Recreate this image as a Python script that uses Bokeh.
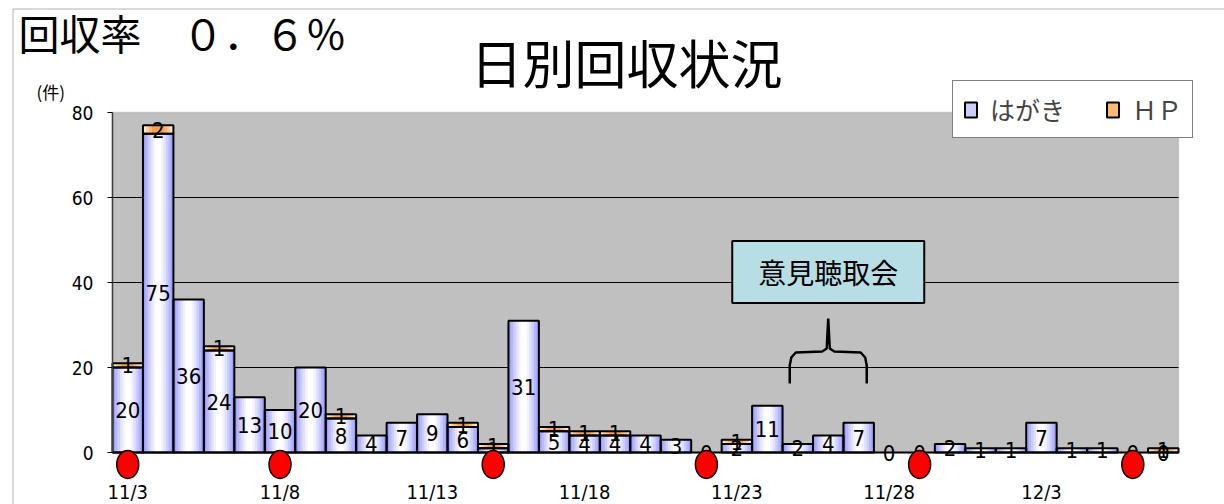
from bokeh.plotting import figure
from bokeh.models import (ColumnDataSource, Range1d, FixedTicker, Label, BoxAnnotation,
                          Legend, LegendItem, CDSView, BooleanFilter)
from bokeh.core.properties import value
from bokeh.embed import file_html
from bokeh.resources import INLINE

# ---------------- data ----------------
dates = ["11/3", "11/4", "11/5", "11/6", "11/7", "11/8", "11/9", "11/10", "11/11", "11/12",
         "11/13", "11/14", "11/15", "11/16", "11/17", "11/18", "11/19", "11/20", "11/21", "11/22",
         "11/23", "11/24", "11/25", "11/26", "11/27", "11/28", "11/29", "11/30", "12/1", "12/2",
         "12/3", "12/4", "12/5", "12/6", "12/7"]
hagaki = [20, 75, 36, 24, 13, 10, 20, 8, 4, 7, 9, 6, 1, 31, 5, 4, 4, 4, 3, 0,
          2, 11, 2, 4, 7, 0, 0, 2, 1, 1, 7, 1, 1, 0, 0]
hp = [1, 2, 0, 1, 0, 0, 0, 1, 0, 0, 0, 1, 1, 0, 1, 1, 1, 0, 0, 0,
      1, 0, 0, 0, 0, 0, 0, 0, 0, 0, 0, 0, 0, 0, 1]
holidays = ["11/3", "11/8", "11/15", "11/22", "11/29", "12/6"]
tick_dates = ["11/3", "11/8", "11/13", "11/18", "11/23", "11/28", "12/3"]
y_ticks = [0, 20, 40, 60, 80]
y_grid = [20, 40, 60]
series_names = ["はがき", "ＨＰ"]
rate_text = "回収率　０．６％"
title_text = "日別回収状況"
unit_text = "(件)"
event_text = "意見聴取会"
event_dates = ["11/25", "11/27"]

# ---------------- helpers ----------------
NARROW = "Liberation Sans Narrow, DejaVu Sans Condensed, sans-serif"
CJK = "Noto Sans CJK JP"
N = len(dates)
idx = list(range(N))
src = ColumnDataSource(dict(
    x=idx,
    hag_top=hagaki,
    hag_mid=[h / 2 for h in hagaki],
    hag_lbl=[str(h) for h in hagaki],
    hp_bot=hagaki,
    hp_top=[h + k for h, k in zip(hagaki, hp)],
    hp_mid=[h + k / 2 for h, k in zip(hagaki, hp)],
    hp_lbl=[str(k) for k in hp],
))
hag_view = CDSView(filter=BooleanFilter([h > 0 for h in hagaki]))
hp_view = CDSView(filter=BooleanFilter([k > 0 for k in hp]))

# pixel geometry of the plotting area (left, right, baseline, top of 80)
PL, PR, PB, PT = 112, 1178, 452, 112
PX_X = (PR - PL) / N
PX_Y = (PB - PT) / y_ticks[-1]

def px2x(px):
    return -0.5 + (px - PL) / PX_X

def py2y(py):
    return (PB - py) / PX_Y

W, H = 1224, 504
p = figure(width=W, height=H, output_backend="svg", toolbar_location=None, title=None,
           x_range=Range1d(px2x(0), px2x(W)), y_range=Range1d(py2y(H), py2y(0)),
           min_border_left=0, min_border_right=0, min_border_top=0, min_border_bottom=0)
p.background_fill_color = "white"
p.border_fill_color = "white"
p.outline_line_color = None
p.xgrid.visible = False
p.ygrid.visible = False

# chart outer border
p.add_layout(BoxAnnotation(left=px2x(12.5), right=px2x(1240), top=py2y(8.5), bottom=py2y(520),
                           fill_color=None, line_color="black", line_width=1, level="underlay"))
# gray plot area
p.add_layout(BoxAnnotation(left=-0.5, right=N - 0.5, bottom=0, top=y_ticks[-1],
                           fill_color="#c0c0c0", fill_alpha=1, line_color="#909090",
                           line_width=1.5, level="underlay"))

# grid lines
p.segment(x0=[-0.5] * len(y_grid), x1=[N - 0.5] * len(y_grid), y0=y_grid, y1=y_grid,
          line_color="black", line_width=1)

# axes (fixed locations, so the frame fills the whole figure)
p.yaxis.fixed_location = -0.5
p.yaxis.ticker = FixedTicker(ticks=y_ticks)
p.yaxis.bounds = (y_ticks[0], y_ticks[-1])
p.yaxis.minor_tick_line_color = None
p.yaxis.major_tick_in = 0
p.yaxis.major_tick_out = 5
p.yaxis.major_label_standoff = 14
p.yaxis.major_label_text_font = NARROW
p.yaxis.major_label_text_font_size = "19px"
p.yaxis.major_label_text_color = "black"
p.yaxis.axis_line_color = "#404040"
p.yaxis.axis_line_width = 1.5

p.xaxis.fixed_location = py2y(472)
p.xaxis.ticker = FixedTicker(ticks=[dates.index(d) for d in tick_dates])
p.xaxis.major_label_overrides = {dates.index(d): d for d in tick_dates}
p.xaxis.axis_line_color = None
p.xaxis.major_tick_line_color = None
p.xaxis.minor_tick_line_color = None
p.xaxis.major_label_standoff = 1
p.xaxis.major_label_text_font = NARROW
p.xaxis.major_label_text_font_size = "20px"
p.xaxis.major_label_text_color = "black"

# bars with a simulated horizontal gradient
hag_shades = [("#9e9eff", 1.0), ("#b6b6ff", 0.84), ("#ccccff", 0.68),
              ("#e0e0ff", 0.52), ("#f1f1ff", 0.36), ("#ffffff", 0.2)]
hp_shades = [("#ffe8d0", 1.0), ("#ffd0a0", 0.8), ("#ffb870", 0.6), ("#ffa040", 0.4)]
hag_layers = [p.vbar(x="x", top="hag_top", bottom=0, width=w, source=src,
                     fill_color=c, line_color=None) for c, w in hag_shades]
hp_layers = [p.vbar(x="x", top="hp_top", bottom="hp_bot", width=w, source=src,
                    fill_color=c, line_color=None) for c, w in hp_shades]
hag_out = p.vbar(x="x", top="hag_top", bottom=0, width=1.0, source=src, view=hag_view,
                 fill_color=None, line_color="black", line_width=2)
hp_out = p.vbar(x="x", top="hp_top", bottom="hp_bot", width=1.0, source=src, view=hp_view,
                fill_color=None, line_color="black", line_width=2)

# baseline
p.segment(x0=[-0.5], x1=[N - 0.5], y0=[0], y1=[0], line_color="black", line_width=2)

# data labels
p.text(x="x", y="hag_mid", text="hag_lbl", source=src, text_align="center",
       text_baseline="middle", text_font=value(NARROW), text_font_size="22px", text_color="black")
p.text(x="x", y="hp_mid", text="hp_lbl", source=src, view=hp_view, text_align="center",
       text_baseline="middle", text_font=value(NARROW), text_font_size="22px", text_color="black")

# holiday markers
hol_idx = [dates.index(d) for d in holidays]
p.ellipse(x=hol_idx, y=[py2y(464)] * len(hol_idx), width=22, height=28,
          width_units="screen", height_units="screen",
          fill_color="#ff0000", line_color="black", line_width=1.5)

# legend
legend = Legend(items=[LegendItem(label=series_names[0], renderers=[hag_layers[2], hag_out]),
                       LegendItem(label=series_names[1], renderers=[hp_layers[2], hp_out])],
                orientation="horizontal", location=(952, H - 138),
                label_text_font=CJK, label_text_font_size="25px",
                glyph_width=15, glyph_height=19, label_standoff=12, spacing=40,
                padding=10, margin=0, border_line_color="black", border_line_width=1,
                background_fill_color="white", background_fill_alpha=1)
p.add_layout(legend)

# texts
p.add_layout(Label(x=px2x(626), y=py2y(61), text=title_text, text_align="center",
                   text_baseline="middle", text_font=CJK, text_font_size="52px", text_color="black"))
p.add_layout(Label(x=px2x(18), y=py2y(31), text=rate_text, text_align="left",
                   text_baseline="middle", text_font=CJK, text_font_size="41px", text_color="black"))
p.add_layout(Label(x=px2x(36), y=py2y(91), text=unit_text, text_align="left",
                   text_baseline="middle", text_font=CJK, text_font_size="17px", text_color="black"))

# event annotation
ev0, ev1 = dates.index(event_dates[0]), dates.index(event_dates[1])
ev_c = (ev0 + ev1) / 2
p.add_layout(Label(x=ev_c, y=py2y(271.5), text=event_text, text_align="center",
                   text_baseline="middle", text_font=CJK, text_font_size="28px", text_color="black",
                   background_fill_color="#b7dee5", border_line_color="black", border_line_width=2,
                   padding=(26, 11)))

# brace
half = (871 - 794) / 2 / PX_X
bx = [-half, -half, -half + 0.05, -half + 0.2, -0.2, -0.05, 0.0, 0.05, 0.2, half - 0.2, half - 0.05, half, half]
by_px = [383, 365, 357, 352, 351, 348, 318, 348, 351, 352, 357, 365, 383]
p.line(x=[ev_c + v for v in bx], y=[py2y(v) for v in by_px], line_color="black", line_width=2.5)

open("out.html", "w").write(file_html(p, INLINE))
